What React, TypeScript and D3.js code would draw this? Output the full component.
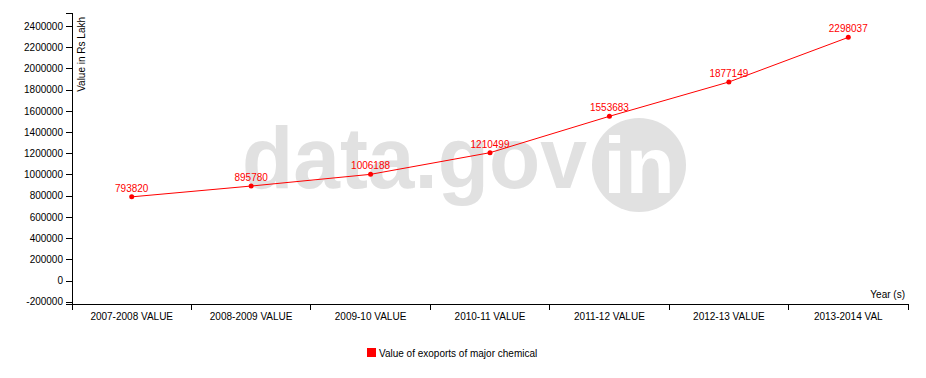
import React from "react";
import * as d3 from "d3";

const categories = [
  "2007-2008 VALUE",
  "2008-2009 VALUE",
  "2009-10 VALUE",
  "2010-11 VALUE",
  "2011-12 VALUE",
  "2012-13 VALUE",
  "2013-2014 VAL",
];
const values = [793820, 895780, 1006188, 1210499, 1553683, 1877149, 2298037];
const yTicks = [-200000, 0, 200000, 400000, 600000, 800000, 1000000, 1200000, 1400000, 1600000, 1800000, 2000000, 2200000, 2400000];
const seriesName = "Value of exoports of major chemical";
const yLabel = "Value in Rs Lakh";
const xLabel = "Year (s)";

const W = 926;
const H = 378;
const left = 72;
const right = 908;
const top = 13;
const bottom = 304;
const FONT = "'Liberation Sans', Arial, sans-serif";

export default function App() {
  const x = d3.scaleBand<string>().domain(categories).range([left, right]);
  const y = d3.scaleLinear().domain([-216700, 2527840]).range([bottom, top]);
  const line = d3
    .line<number>()
    .x((_, i) => (x(categories[i]) as number) + x.bandwidth() / 2)
    .y((d) => y(d));
  const boundaries = categories.map((c) => x(c) as number).concat([right]);

  return (
    <svg
      width={W}
      height={H}
      style={{ position: "absolute", left: 0, top: 0, background: "#fff" }}
      fontFamily={FONT}
      fontSize={10}
    >
      {/* watermark */}
      <g>
        <text
          x={242}
          y={188}
          fontSize={88}
          fontWeight="bold"
          fill="#e1e1e1"
          textLength={345}
          lengthAdjust="spacingAndGlyphs"
        >
          data.gov
        </text>
        <circle cx={639} cy={165} r={47} fill="#e1e1e1" />
        <text x={639} y={193} fontSize={80} fontWeight="bold" fill="#fff" textAnchor="middle">
          in
        </text>
      </g>

      {/* y axis */}
      <g shapeRendering="crispEdges" stroke="#000">
        <path d={`M${left - 6},${top}H${left}V${bottom}H${left - 6}`} fill="none" />
        {yTicks.map((t) => (
          <line key={t} x1={left - 6} x2={left} y1={y(t)} y2={y(t)} />
        ))}
      </g>
      {yTicks.map((t) => (
        <text key={t} x={left - 9} y={y(t)} dy="0.32em" textAnchor="end" fill="#000">
          {t}
        </text>
      ))}
      <text
        transform={`translate(${left},${top}) rotate(-90)`}
        x={-4}
        y={6}
        dy="0.71em"
        textAnchor="end"
        fill="#000"
      >
        {yLabel}
      </text>

      {/* x axis */}
      <g shapeRendering="crispEdges" stroke="#000">
        <path d={`M${left},${bottom}H${right}`} fill="none" />
        {boundaries.map((b, i) => (
          <line key={i} x1={b} x2={b} y1={bottom} y2={bottom + 6} />
        ))}
      </g>
      {categories.map((c) => (
        <text
          key={c}
          x={(x(c) as number) + x.bandwidth() / 2}
          y={bottom + 9}
          dy="0.71em"
          textAnchor="middle"
          fill="#000"
        >
          {c}
        </text>
      ))}
      <text x={right - 3} y={bottom - 6} textAnchor="end" fill="#000">
        {xLabel}
      </text>

      {/* series */}
      <path d={line(values) || ""} fill="none" stroke="red" strokeWidth={1} />
      {values.map((v, i) => {
        const cx = (x(categories[i]) as number) + x.bandwidth() / 2;
        return (
          <g key={i}>
            <circle cx={cx} cy={y(v)} r={2.5} fill="red" />
            <text x={cx} y={y(v) - 5} textAnchor="middle" fill="red">
              {v}
            </text>
          </g>
        );
      })}

      {/* legend */}
      <rect x={367} y={348} width={9} height={9} fill="red" />
      <text x={379} y={356.5} fill="#000">
        {seriesName}
      </text>
    </svg>
  );
}
